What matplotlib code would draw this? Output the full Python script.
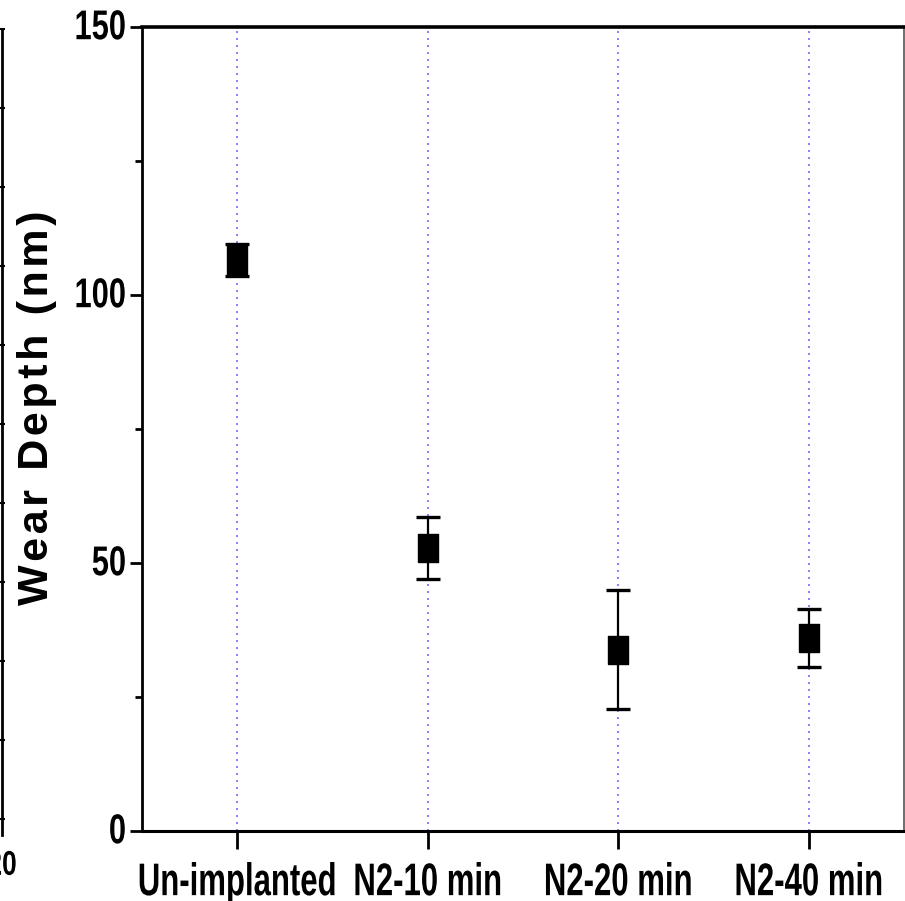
import matplotlib
matplotlib.use("Agg")
import matplotlib.pyplot as plt
from matplotlib.ticker import MultipleLocator
from matplotlib.patheffects import AbstractPathEffect
from matplotlib.transforms import Affine2D

# data
samples = ["Un-implanted", "N2-10 min", "N2-20 min", "N2-40 min"]
wear_depth = [106.5, 52.8, 33.8, 36.0]
wear_err = [3.0, 5.7, 11.1, 5.4]

plt.rcParams["font.family"] = ["Liberation Sans", "DejaVu Sans"]


class Tall(AbstractPathEffect):
    """stretch text vertically, so it looks like the narrow face of the original"""
    def __init__(self, sy=1.4, anchor="center", dy=0):
        super().__init__()
        self.sy = sy
        self.anchor = anchor
        self.dy = dy

    def draw_path(self, renderer, gc, tpath, affine, rgbFace=None):
        ext = tpath.get_extents(affine)
        cy = ext.y1 if self.anchor == "top" else 0.5 * (ext.y0 + ext.y1)
        affine = affine + Affine2D().translate(0, -cy).scale(1, self.sy).translate(0, cy + self.dy)
        renderer.draw_path(gc, tpath, affine, rgbFace)


fig = plt.figure(figsize=(9.05, 9.01), dpi=100)
W, H = 905.0, 901.0

# main axes
ax = fig.add_axes([142 / W, (H - 831) / H, (904 - 142) / W, (831 - 27) / H])
x = list(range(len(samples)))

for xi in x:
    ax.plot([xi, xi], [0, 150], color="#8080ff", lw=1.4, ls=(0, (1, 2.6)), zorder=1)

box = [(-0.68, -1), (0.68, -1), (0.68, 1), (-0.68, 1), (-0.68, -1)]
ax.errorbar(x, wear_depth, yerr=wear_err, fmt="none", ecolor="black",
            elinewidth=1.6, capsize=8.5, capthick=2.4, zorder=2)
ax.plot(x, wear_depth, ls="none", marker=box, markersize=20.5,
        color="black", zorder=3)

ax.set_xlim(-0.5, 3.5)
ax.set_ylim(0, 150)
ax.set_xticks(x)
ax.set_xticklabels(samples, fontsize=22.4, fontweight="bold")
ax.yaxis.set_major_locator(MultipleLocator(50))
ax.yaxis.set_minor_locator(MultipleLocator(25))
ax.tick_params(axis="y", which="major", direction="out", length=9, width=2,
               labelsize=22.2, pad=2.5)
ax.tick_params(axis="y", which="minor", direction="out", length=5, width=2)
ax.tick_params(axis="x", which="major", direction="out", length=13, width=2,
               pad=9)
for lab in ax.get_yticklabels():
    lab.set_fontweight("bold")
    lab.set_path_effects([Tall(1.35, "center", dy=3)])
for lab in ax.get_xticklabels():
    lab.set_path_effects([Tall(1.47, "top")])

ax.spines["left"].set_linewidth(2)
ax.spines["bottom"].set_linewidth(2.2)
ax.spines["top"].set_linewidth(2.6)
ax.spines["right"].set_linewidth(1.2)
ax.spines["right"].set_color("#555555")

# the original label is letter-spaced: hair spaces between the letters
ylab = "\u200a".join("Wear Depth (nm)")
fig.text(57 / W, 1 - 408 / H, ylab, rotation=90,
         fontsize=31, fontweight="bold",
         ha="right", va="center")

# leftover edge of a neighbouring panel
ax0 = fig.add_axes([-0.3, (H - 835) / H, 0.3 + 2 / W, (835 - 29) / H])
ax0.set_ylim(-0.2, 10)
ax0.set_xlim(0, 20)
for s in ["left", "top", "bottom"]:
    ax0.spines[s].set_visible(False)
ax0.spines["right"].set_linewidth(2)
ax0.yaxis.tick_right()
ax0.set_yticks(range(0, 11))
ax0.tick_params(axis="y", direction="inout", length=5, width=1.5, labelright=False)
ax0.set_xticks([20])
ax0.set_xticklabels(["20"], fontsize=19, fontweight="bold")
for lab in ax0.get_xticklabels():
    lab.set_path_effects([Tall(1.3, "top")])
ax0.tick_params(axis="x", length=0, pad=11)
ax0.patch.set_alpha(0)

fig.savefig("out.png", dpi=100)
